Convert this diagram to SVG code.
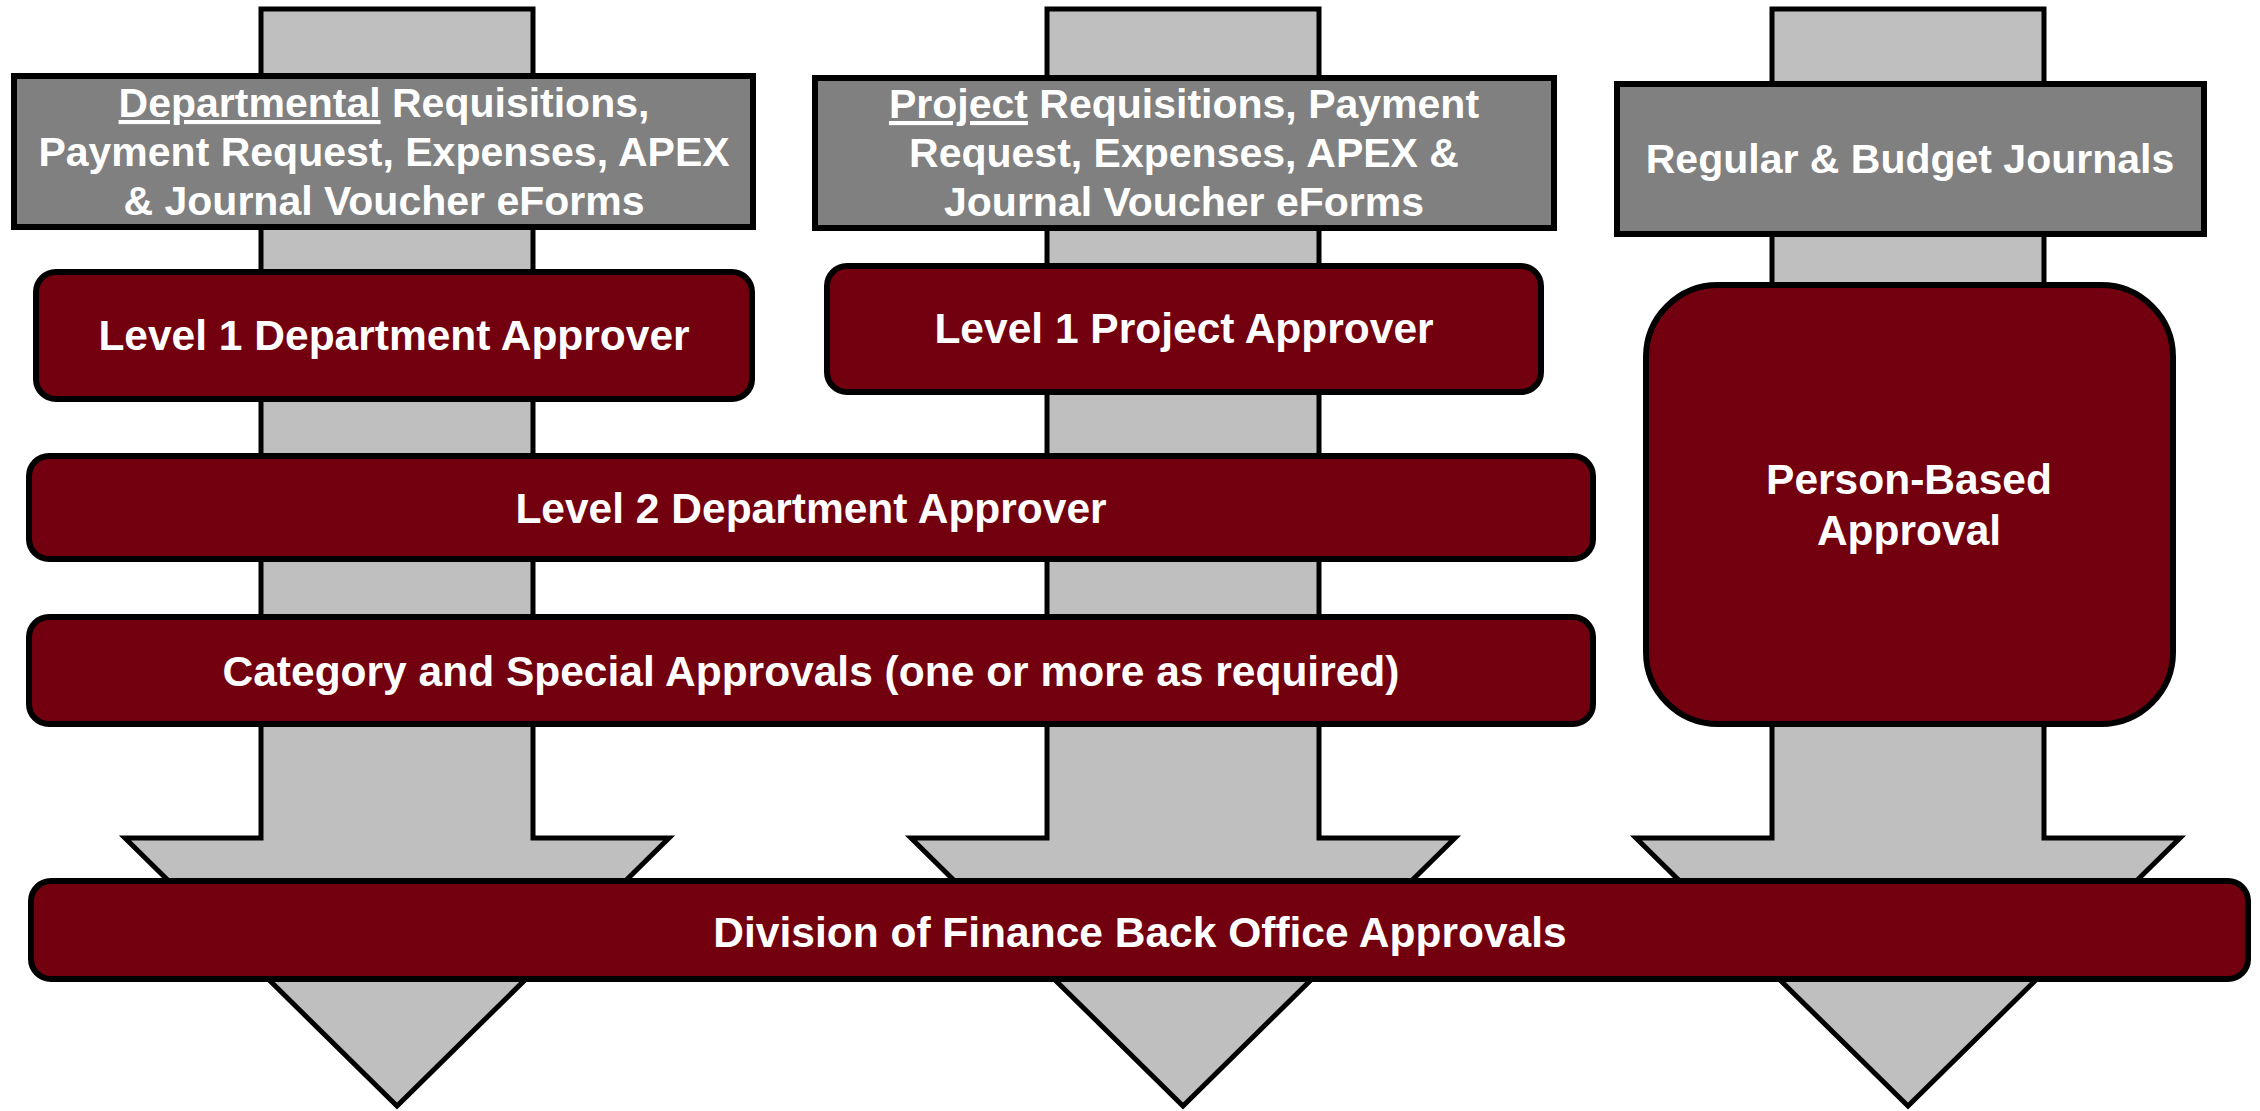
<svg xmlns="http://www.w3.org/2000/svg" width="2260" height="1111" viewBox="0 0 2260 1111">
<style>
.arrow{fill:#BFBFBF;stroke:#000;stroke-width:5;stroke-linejoin:miter}
.src{fill:#808080;stroke:#000;stroke-width:6}
.step{fill:#72000F;stroke:#000;stroke-width:6}
text{font-family:"Liberation Sans",Arial,sans-serif;font-weight:bold;font-size:41px;fill:#fff;text-anchor:middle}
text.m{font-size:42.5px}
</style>
<rect width="2260" height="1111" fill="#fff"/>
<g id="connectors">
<polygon class="arrow" points="261,9 533,9 533,838 669,838 397,1106 125,838 261,838"/>
<polygon class="arrow" points="1047,9 1319,9 1319,838 1455,838 1183,1106 911,838 1047,838"/>
<polygon class="arrow" points="1772,9 2044,9 2044,838 2180,838 1908,1106 1636,838 1772,838"/>
</g>
<g id="dept-forms">
<rect class="src" x="14" y="76" width="739" height="151"/>
<text x="384" y="117"><tspan text-decoration="underline">Departmental</tspan> Requisitions,</text>
<text x="384" y="166">Payment Request, Expenses, APEX</text>
<text x="384" y="215">&amp; Journal Voucher eForms</text>
</g>
<g id="project-forms">
<rect class="src" x="815" y="78" width="739" height="150"/>
<text x="1184" y="118"><tspan text-decoration="underline">Project</tspan> Requisitions, Payment</text>
<text x="1184" y="167">Request, Expenses, APEX &amp;</text>
<text x="1184" y="216">Journal Voucher eForms</text>
</g>
<g id="journals">
<rect class="src" x="1617" y="84" width="587" height="150"/>
<text x="1910" y="173">Regular &amp; Budget Journals</text>
</g>
<g id="level1-dept">
<rect class="step" x="36" y="272" width="716" height="127" rx="20"/>
<text class="m" x="394" y="350">Level 1 Department Approver</text>
</g>
<g id="level1-project">
<rect class="step" x="827" y="266" width="714" height="126" rx="20"/>
<text class="m" x="1184" y="343">Level 1 Project Approver</text>
</g>
<g id="person-based">
<rect class="step" x="1646" y="285" width="527" height="439" rx="72"/>
<text class="m" x="1909" y="494">Person-Based</text>
<text class="m" x="1909" y="545">Approval</text>
</g>
<g id="level2-dept">
<rect class="step" x="29" y="456" width="1564" height="103" rx="20"/>
<text class="m" x="811" y="523">Level 2 Department Approver</text>
</g>
<g id="category-special">
<rect class="step" x="29" y="617" width="1564" height="107" rx="20"/>
<text class="m" x="811" y="686">Category and Special Approvals (one or more as required)</text>
</g>
<g id="finance-back-office">
<rect class="step" x="31" y="881" width="2217" height="98" rx="20"/>
<text class="m" x="1140" y="947">Division of Finance Back Office Approvals</text>
</g>
</svg>
